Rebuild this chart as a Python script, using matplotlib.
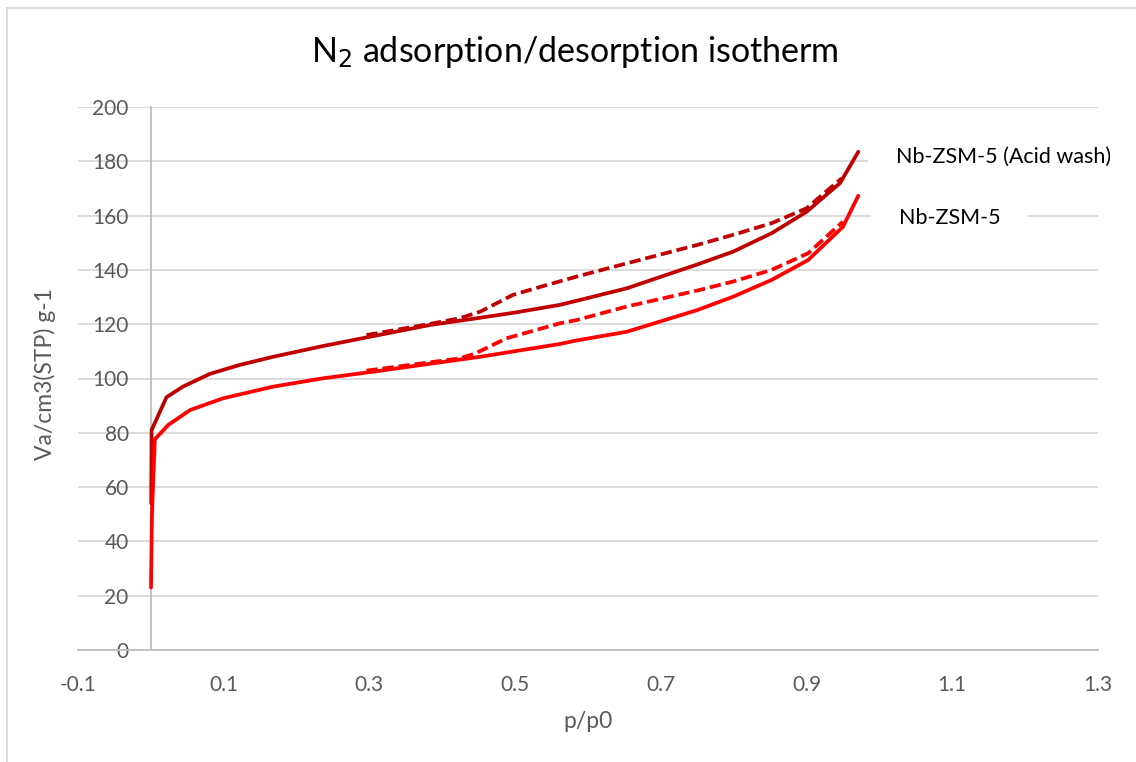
import matplotlib
matplotlib.use("Agg")
import matplotlib.pyplot as plt
from matplotlib.lines import Line2D

plt.rcParams['font.family'] = ['Lato', 'DejaVu Sans']
plt.rcParams['axes.unicode_minus'] = False

# Nb-ZSM-5 (Acid wash) adsorption branch
acid_ads_x = [0.0005, 0.001, 0.0215, 0.044, 0.081, 0.122, 0.168, 0.237, 0.305, 0.383, 0.45, 0.5,
              0.561, 0.584, 0.653, 0.75, 0.799, 0.852, 0.9, 0.946, 0.971]
acid_ads_y = [54, 81, 93.1, 97.0, 101.7, 105.0, 108.0, 112.0, 115.6, 119.7, 122.3, 124.3,
              127.1, 128.6, 133.2, 142.0, 146.7, 153.5, 161.4, 172.0, 183.5]
# Nb-ZSM-5 (Acid wash) desorption branch
acid_des_x = [0.296, 0.383, 0.424, 0.452, 0.497, 0.543, 0.584, 0.653, 0.75, 0.799, 0.852, 0.9, 0.948]
acid_des_y = [116.0, 120.1, 122.2, 124.6, 130.8, 134.4, 137.5, 142.4, 149.2, 152.9, 157.2, 162.7, 173.7]

# Nb-ZSM-5 adsorption branch
nb_ads_x = [0.0002, 0.0015, 0.0055, 0.024, 0.054, 0.099, 0.168, 0.237, 0.305, 0.452, 0.561, 0.584,
            0.653, 0.75, 0.799, 0.852, 0.902, 0.95, 0.971]
nb_ads_y = [23, 50, 77.6, 82.9, 88.4, 92.7, 97.0, 100.1, 102.5, 108.0, 112.7, 114.0,
            117.2, 125.2, 130.1, 136.3, 143.6, 155.9, 167.3]
# Nb-ZSM-5 desorption branch
nb_des_x = [0.296, 0.424, 0.446, 0.488, 0.52, 0.561, 0.584, 0.653, 0.75, 0.799, 0.852, 0.902, 0.95]
nb_des_y = [102.9, 107.4, 109.3, 114.8, 117.2, 120.3, 121.5, 126.5, 132.4, 135.7, 140.0, 146.1, 157.8]

series_labels = ['Nb-ZSM-5 (Acid wash)', 'Nb-ZSM-5']
x_ticks = [-0.1, 0.1, 0.3, 0.5, 0.7, 0.9, 1.1, 1.3]
y_ticks = [0, 20, 40, 60, 80, 100, 120, 140, 160, 180, 200]

dark = '#C00000'
red = '#FF0000'

fig = plt.figure(figsize=(11.36, 7.62), dpi=100)
ax = fig.add_axes([78/1136, 1-650/762, 1020/1136, 543/762])

lw = 2.7
ax.plot(acid_ads_x, acid_ads_y, color=dark, lw=lw, solid_capstyle='round', solid_joinstyle='round', zorder=3)
ax.plot(acid_des_x, acid_des_y, color=dark, lw=lw, dashes=(3.0, 1.3), dash_capstyle='butt', zorder=3)
ax.plot(nb_ads_x, nb_ads_y, color=red, lw=lw, solid_capstyle='round', solid_joinstyle='round', zorder=3)
ax.plot(nb_des_x, nb_des_y, color=red, lw=lw, dashes=(3.0, 1.3), dash_capstyle='butt', zorder=3)

ax.set_xlim(-0.1, 1.3)
ax.set_ylim(0, 200)
ax.set_xticks(x_ticks)
ax.set_xticklabels([f'{v:.1f}' for v in x_ticks])
ax.set_yticks(y_ticks)
ax.set_yticklabels([str(v) for v in y_ticks])

ax.grid(axis='y', color='#D9D9D9', lw=1.3, zorder=0)
ax.set_axisbelow(True)
for s in ['top', 'right']:
    ax.spines[s].set_visible(False)
ax.spines['left'].set_position(('data', 0))
ax.spines['left'].set_color('#BFBFBF')
ax.spines['left'].set_linewidth(1.3)
ax.spines['bottom'].set_color('#BFBFBF')
ax.spines['bottom'].set_linewidth(1.3)
ax.tick_params(axis='both', length=0, labelsize=15, labelcolor='#595959')
ax.tick_params(axis='y', pad=16)
ax.tick_params(axis='x', pad=18)

fig.text(588/1136, 1-721/762, 'p/p0', fontsize=16.5, color='#595959', ha='center', va='center')
fig.text(45/1136, 1-374/762, 'Va/cm3(STP) g-1', rotation=90, fontsize=16.5, color='#595959',
         ha='center', va='center')

fig.text(575/1136, 1-52/762, r'N$_2$ adsorption/desorption isotherm', fontsize=24.5,
         color='#000000', ha='center', va='center')

# series labels
ax.text(1.0225, 181.7, series_labels[0], fontsize=15.5, color='#000000', ha='left', va='center',
        bbox=dict(facecolor='white', edgecolor='none', pad=20), zorder=4)
ax.text(1.0266, 159.1, series_labels[1], fontsize=15.5, color='#000000', ha='left', va='center',
        bbox=dict(facecolor='white', edgecolor='none', pad=20), zorder=4)

# chart area border
fig.add_artist(Line2D([7/1136, 7/1136], [0, 1-8/762], transform=fig.transFigure, color='#D9D9D9', lw=1.3))
fig.add_artist(Line2D([7/1136, 1], [1-8/762, 1-8/762], transform=fig.transFigure, color='#D9D9D9', lw=1.3))

fig.savefig('out.png', dpi=100)
